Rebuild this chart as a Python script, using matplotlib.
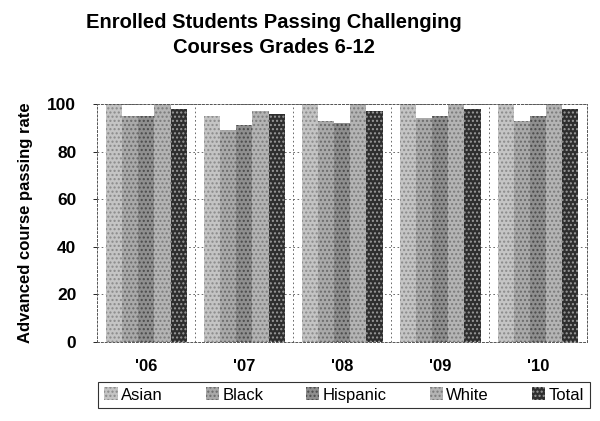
from matplotlib import pyplot as plt
import numpy as np

plt.rcParams["font.family"] = ["Liberation Sans", "DejaVu Sans"]

################################################################################
# Data
################################################################################

years = ["'06", "'07", "'08", "'09", "'10"]
groups = ["Asian", "Black", "Hispanic", "White", "Total"]

asian = [100, 95, 100, 100, 100]
black = [95, 89, 93, 94, 93]
hispanic = [95, 91, 92, 95, 95]
white = [100, 97, 100, 100, 100]
total = [98, 96, 97, 98, 98]

series = [asian, black, hispanic, white, total]
colors = ["#c4c4c4", "#a9a9a9", "#8f8f8f", "#b4b4b4", "#2e2e2e"]
hatches = ["....", "....", "....", "....", "...."]
hatch_colors = ["#8a8a8a", "#6a6a6a", "#4a4a4a", "#7a7a7a", "#9a9a9a"]

################################################################################
# Plot
################################################################################

fig = plt.figure(figsize=(6.0, 4.21), dpi=100)
ax = fig.add_axes([0.162, 0.188, 0.816, 0.565])

x = np.arange(len(years))
width = 0.165
offset0 = -0.5 + 0.09 + width / 2

for i, (vals, name) in enumerate(zip(series, groups)):
    plt.rcParams["hatch.color"] = hatch_colors[i]
    ax.bar(x + offset0 + i * width, vals, width, color=colors[i], hatch=hatches[i],
           edgecolor=hatch_colors[i], linewidth=0, label=name)

ax.set_xlim(-0.5, len(years) - 0.5)
ax.set_ylim(0, 100)
ax.set_yticks([0, 20, 40, 60, 80, 100])
ax.set_yticklabels(["0", "20", "40", "60", "80", "100"], fontsize=12.5, fontweight="bold")
ax.set_xticks(x)
ax.set_xticklabels(years, fontsize=12, fontweight="bold")
ax.tick_params(axis="x", length=0, pad=12)
ax.tick_params(axis="y", length=3, width=0.6, pad=12)

ax.grid(True, axis="y", color="#555555", linestyle=(0, (2, 3)), linewidth=0.6)
for sep in x[:-1] + 0.5:
    ax.axvline(sep, color="#555555", linestyle=(0, (2, 3)), linewidth=0.6, zorder=0)
ax.set_axisbelow(True)
for s in ax.spines.values():
    s.set_color("#555555")
    s.set_linestyle((0, (2, 2)))
    s.set_linewidth(0.7)

ax.set_ylabel("Advanced course passing rate", fontsize=12, fontweight="bold", labelpad=10)

fig.suptitle("Enrolled Students Passing Challenging\nCourses Grades 6-12",
             fontsize=14.5, fontweight="bold", y=0.97, x=0.457, linespacing=1.4)

leg = fig.legend(loc="lower left", bbox_to_anchor=(0.15, 0.01, 0.847, 0.09), mode="expand",
                 ncol=5, frameon=True, fancybox=False, fontsize=12,
                 handlelength=0.8, handleheight=0.8, handletextpad=0.2,
                 borderpad=0.35, columnspacing=1.0)
leg.get_frame().set_edgecolor("black")
leg.get_frame().set_linewidth(0.8)

plt.savefig("out.png", dpi=100)
